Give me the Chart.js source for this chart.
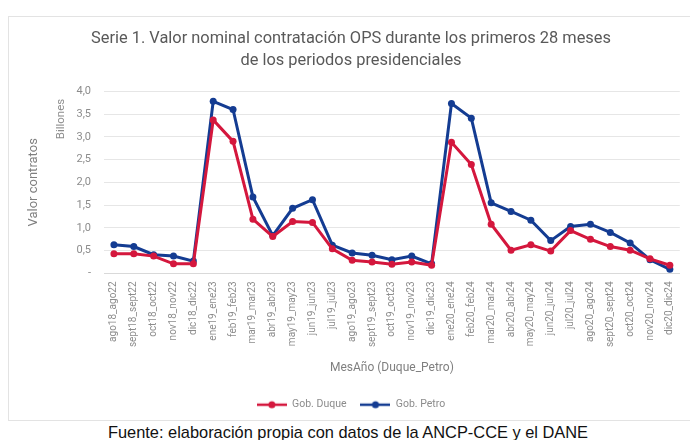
<!DOCTYPE html>
<html>
<head>
<meta charset="utf-8">
<script src="https://cdn.jsdelivr.net/npm/chart.js@4.4.1/dist/chart.umd.min.js"></script>
<style>
  html,body{margin:0;padding:0;background:#fff;width:690px;height:440px;overflow:hidden;}
  #box{position:absolute;left:8px;top:16px;width:700px;height:405px;border:1px solid #e3e3e3;box-sizing:border-box;}
  #wrap{position:absolute;left:0;top:0;width:690px;height:422px;}
  #src{position:absolute;left:0;top:422px;width:696px;text-align:center;font-family:"Liberation Sans",Arial,sans-serif;font-size:16.4px;color:#111;line-height:20px;}
</style>
</head>
<body>
<div id="box"></div>
<div id="wrap"><canvas id="chart"></canvas></div>
<div id="src">Fuente: elaboración propia con datos de la ANCP-CCE y el DANE</div>
<script>
// meses (Duque_Petro), valores en billones
const MESES = ["ago18_ago22","sept18_sept22","oct18_oct22","nov18_nov22","dic18_dic22",
  "ene19_ene23","feb19_feb23","mar19_mar23","abr19_abr23","may19_may23","jun19_jun23",
  "jul19_jul23","ago19_ago23","sept19_sept23","oct19_oct23","nov19_nov23","dic19_dic23",
  "ene20_ene24","feb20_feb24","mar20_mar24","abr20_abr24","may20_may24","jun20_jun24",
  "jul20_jul24","ago20_ago24","sept20_sept24","oct20_oct24","nov20_nov24","dic20_dic24"];
const DUQUE = [0.43,0.43,0.38,0.21,0.21,3.37,2.90,1.19,0.81,1.14,1.12,0.54,0.29,
  0.25,0.20,0.25,0.18,2.88,2.39,1.08,0.51,0.63,0.49,0.94,0.75,0.59,0.51,0.32,0.18];
const PETRO = [0.63,0.59,0.41,0.38,0.27,3.78,3.60,1.68,0.83,1.43,1.62,0.62,0.45,
  0.40,0.30,0.38,0.21,3.73,3.41,1.55,1.36,1.17,0.72,1.03,1.08,0.90,0.67,0.30,0.09];

const ROJO = "#d4173d";
const AZUL = "#143c92";
const GRIS = "#8c8c8c";
const FUENTE = '"Roboto",sans-serif';

function legendIcon(color){
  const c=document.createElement("canvas");c.width=30;c.height=10;
  const x=c.getContext("2d");
  x.strokeStyle=color;x.lineWidth=2.5;x.beginPath();x.moveTo(0,5);x.lineTo(30,5);x.stroke();
  x.fillStyle=color;x.beginPath();x.arc(15,5,3.5,0,Math.PI*2);x.fill();
  return c;
}

// etiqueta "Billones" junto al eje Y
const billones = {
  id:"billones",
  afterDraw(chart){
    const ctx=chart.ctx;
    ctx.save();
    ctx.font="11.5px "+FUENTE;ctx.fillStyle=GRIS;
    ctx.translate(61,119);ctx.rotate(-Math.PI/2);
    ctx.textAlign="center";ctx.textBaseline="middle";
    ctx.fillText("Billones",0,0);
    ctx.restore();
  }
};

new Chart(document.getElementById("chart"),{
  type:"line",
  data:{labels:MESES,datasets:[
    {label:"Gob. Duque",data:DUQUE,borderColor:ROJO,backgroundColor:ROJO,borderWidth:3,pointRadius:3.5,pointBackgroundColor:ROJO,pointBorderWidth:0,tension:0},
    {label:"Gob. Petro",data:PETRO,borderColor:AZUL,backgroundColor:AZUL,borderWidth:3,pointRadius:3.5,pointBackgroundColor:AZUL,pointBorderWidth:0,tension:0}
  ]},
  options:{
    responsive:true,maintainAspectRatio:false,animation:false,
    layout:{padding:{left:20,right:8,top:0,bottom:2}},
    plugins:{
      title:{display:true,text:["Serie 1. Valor nominal contratación OPS durante los primeros 28 meses","de los periodos presidenciales"],
        color:"#595959",font:{family:FUENTE,size:16.4,weight:"normal",lineHeight:1.35},padding:{top:28,bottom:19}},
      legend:{position:"bottom",labels:{color:GRIS,font:{family:FUENTE,size:10.5},usePointStyle:true,pointStyleWidth:30,boxHeight:10,padding:14,
        generateLabels(chart){return chart.data.datasets.map(function(d,i){return {text:d.label,fillStyle:d.borderColor,strokeStyle:d.borderColor,pointStyle:legendIcon(d.borderColor),datasetIndex:i,lineWidth:0,fontColor:GRIS};});}}},
      tooltip:{enabled:false}
    },
    scales:{
      x:{offset:true,grid:{display:false,drawTicks:false},border:{color:"#d9d9d9"},
        ticks:{color:GRIS,font:{family:FUENTE,size:10},maxRotation:90,minRotation:90,autoSkip:false,padding:8},
        title:{display:true,text:"MesAño (Duque_Petro)",color:"#7f7f7f",font:{family:FUENTE,size:12},padding:{top:6,bottom:10}}},
      y:{min:0,max:4,grid:{color:"#e6e6e6",drawTicks:false},border:{display:false},
        afterFit(s){s.width=84;},
        ticks:{stepSize:0.5,color:GRIS,font:{family:FUENTE,size:11},padding:13,
          callback(v){return v===0?"-":v.toFixed(1).replace(".",",");}},
        title:{display:true,text:"Valor contratos",color:"#7f7f7f",font:{family:FUENTE,size:13},padding:{top:6,bottom:0}}}
    }
  },
  plugins:[billones]
});
</script>
</body>
</html>
